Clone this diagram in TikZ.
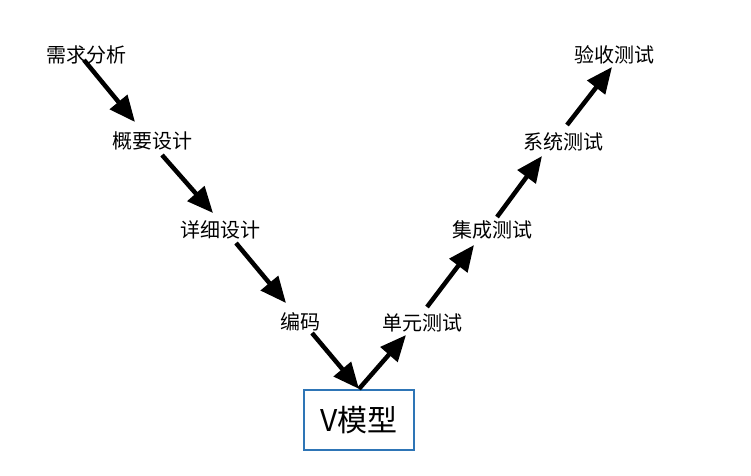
\documentclass[tikz,border=0pt]{standalone}
\usepackage{fontspec}
\setmainfont{Noto Sans CJK SC}
\usetikzlibrary{arrows.meta}
\definecolor{vblue}{RGB}{46,117,182}
\begin{document}
\begin{tikzpicture}[x=1pt,y=-1pt]
        \tikzstyle{stage} = [inner sep=0pt,font=\fontsize{20}{24}\selectfont]
        \tikzstyle{flow} = [line width=4.5pt,-{Triangle[length=26pt,width=22pt]}]

        \useasboundingbox (0,0) rectangle (751,475);

        \node[stage] (xq) at (86,55){需求分析};
        \node[stage] (gy) at (152,141){概要设计};
        \node[stage] (xx) at (220,230){详细设计};
        \node[stage] (bm) at (300,322){编码};
        \node[stage] (dy) at (422,323){单元测试};
        \node[stage] (jc) at (492,230){集成测试};
        \node[stage] (xt) at (563,142){系统测试};
        \node[stage] (ys) at (614,55){验收测试};
        \node[draw=vblue,line width=2.2pt,minimum width=110pt,minimum height=60pt,font=\fontsize{30}{36}\selectfont] (vm) at (359,420){V模型};

        % down the left side
        \draw[flow] ([shift={(-2,5)}]xq.center) -- ([shift={(-17,-19)}]gy.center);
        \draw[flow] ([shift={(10,14)}]gy.center) -- ([shift={(-7,-17)}]xx.center);
        \draw[flow] ([shift={(16,13)}]xx.center) -- ([shift={(-14,-19)}]bm.center);
        \draw[flow] ([shift={(12,11)}]bm.center) -- (vm.north);

        % up the right side
        \draw[flow] (vm.north) -- ([shift={(-16,12)}]dy.center);
        \draw[flow] ([shift={(5,-16)}]dy.center) -- ([shift={(-18,15)}]jc.center);
        \draw[flow] ([shift={(5,-13)}]jc.center) -- ([shift={(-21,14)}]xt.center);
        \draw[flow] ([shift={(4,-17)}]xt.center) -- ([shift={(-2,12)}]ys.center);

\end{tikzpicture}
\end{document}
